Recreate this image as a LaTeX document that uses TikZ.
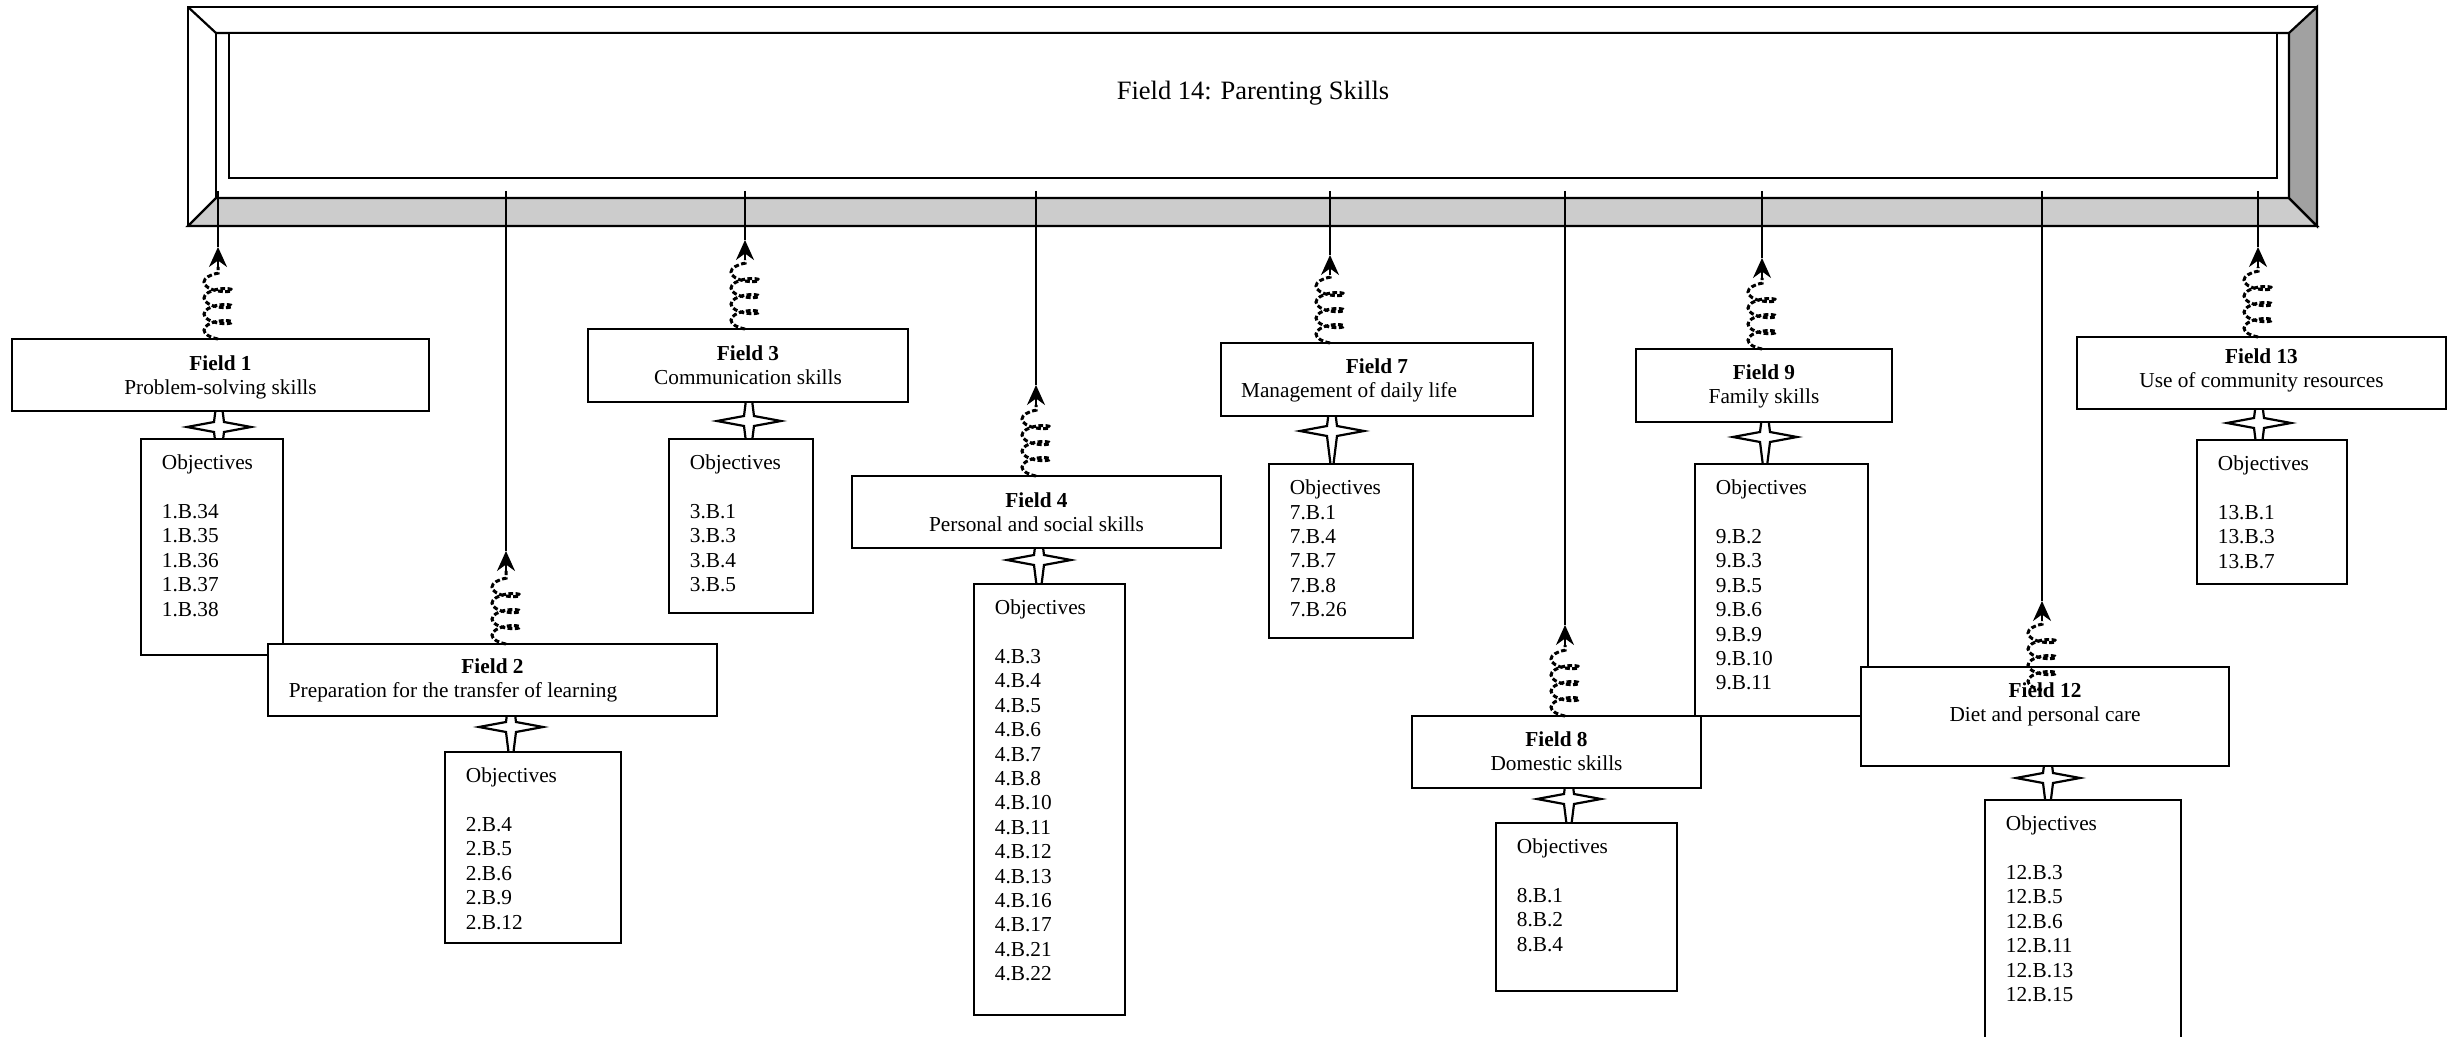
\documentclass[tikz,border=0pt]{standalone}
\usepackage{fontspec}
\setmainfont{Liberation Serif}
\usetikzlibrary{fit,decorations.pathmorphing,arrows.meta}
\newcommand\bodyfnt{\fontsize{10.65pt}{12.2pt}\selectfont}
\newcommand\titlefnt{\fontsize{13.25pt}{15pt}\selectfont}
\begin{document}
\begin{tikzpicture}[x=0.5pt,y=-0.5pt,
  box/.style={draw, line width=1.1pt, fill=white, inner sep=0pt, outer sep=0pt},
  fieldtext/.style={anchor=north, align=center, inner sep=0pt, font=\bodyfnt},
  objtext/.style={anchor=north west, align=left, inner sep=0pt, font=\bodyfnt},
  link/.style={line width=1pt},
  tipline/.style={line width=1pt, -{Stealth[length=10pt,width=9pt]}},
  coilline/.style={line width=1.5pt, dash pattern=on 2.4pt off 1.2pt, decorate,
     decoration={coil, amplitude=7pt, segment length=8pt, aspect=0.35}},
  starline/.style={draw, line width=1.1pt, fill=white},
  fourstar/.pic={\path[starline] (-32,0) -- (-5,-5) -- (0,-45) -- (5,-5) -- (32,0) -- (5,5) -- (0,45) -- (-5,5) -- cycle;}
]
\useasboundingbox (0,0) rectangle (2459,1037);
\clip (0,0) rectangle (2459,1037);

% ---- frame ----
\draw[line width=1.1pt, fill=white] (188,7) rectangle (2317,226);
\draw[line width=1.1pt, fill=black!20] (216,198) -- (2289,198) -- (2317,226) -- (188,226) -- cycle;
\draw[line width=1.1pt, fill=black!37] (2289,33) -- (2317,7) -- (2317,226) -- (2289,198) -- cycle;
\draw[line width=1.1pt] (188,7) -- (216,33) -- (2289,33);
\draw[line width=1.1pt] (216,33) -- (216,198);
\node[box, fit={(229,33) (2277,178)}] (panel) {};
\node[anchor=base, font=\titlefnt, inner sep=0pt] (title) at (1253,100) {Field 14: Parenting Skills};

% ---- stars ----
\foreach \cx/\cy in {219/427, 511/727, 749/421, 1039/560, 1332/431, 1569/799, 1765/437, 2048/778, 2259/423}
  \pic at (\cx,\cy) {fourstar};

% ---- group 1 ----
\node[box, fit={(12,339) (429,411)}] (f1) {};
\node[fieldtext] (f1t) at (220.5,355.4) {\textbf{Field 1}\\Problem-solving skills};
\node[box, fit={(141,439) (283,655)}] (o1) {};
\node[objtext] (o1t) at (161.5,454.5) {Objectives\\[12.2pt]1.B.34\\1.B.35\\1.B.36\\1.B.37\\1.B.38};
% ---- group 2 ----
\node[box, fit={(268,644) (717,716)}] (f2) {};
\node[fieldtext] (f2t) at (492.5,658.4) {\textbf{Field 2}\\Preparation for the transfer of learning\rule{39.5pt}{0pt}};
\node[box, fit={(445,752) (621,943)}] (o2) {};
\node[objtext] (o2t) at (465.5,767.5) {Objectives\\[12.2pt]2.B.4\\2.B.5\\2.B.6\\2.B.9\\2.B.12};
% ---- group 3 ----
\node[box, fit={(588,329) (908,402)}] (f3) {};
\node[fieldtext] (f3t) at (748,345.4) {\textbf{Field 3}\\Communication skills};
\node[box, fit={(669,439) (813,613)}] (o3) {};
\node[objtext] (o3t) at (689.5,454.5) {Objectives\\[12.2pt]3.B.1\\3.B.3\\3.B.4\\3.B.5};
% ---- group 4 ----
\node[box, fit={(852,476) (1221,548)}] (f4) {};
\node[fieldtext] (f4t) at (1036.5,492) {\textbf{Field 4}\\Personal and social skills};
\node[box, fit={(974,584) (1125,1015)}] (o4) {};
\node[objtext] (o4t) at (994.5,599.5) {Objectives\\[12.2pt]4.B.3\\4.B.4\\4.B.5\\4.B.6\\4.B.7\\4.B.8\\4.B.10\\4.B.11\\4.B.12\\4.B.13\\4.B.16\\4.B.17\\4.B.21\\4.B.22};
% ---- group 7 ----
\node[box, fit={(1221,343) (1533,416)}] (f7) {};
\node[fieldtext] (f7t) at (1377,358.4) {\textbf{Field 7}\\Management of daily life\rule{28pt}{0pt}};
\node[box, fit={(1269,464) (1413,638)}] (o7) {};
\node[objtext] (o7t) at (1289.5,479.5) {Objectives\\7.B.1\\7.B.4\\7.B.7\\7.B.8\\7.B.26};
% ---- group 8 ----
\node[box, fit={(1412,716) (1701,788)}] (f8) {};
\node[fieldtext] (f8t) at (1556.5,731.4) {\textbf{Field 8}\\Domestic skills};
\node[box, fit={(1496,823) (1677,991)}] (o8) {};
\node[objtext] (o8t) at (1516.5,838.5) {Objectives\\[12.2pt]8.B.1\\8.B.2\\8.B.4};
% ---- group 9 ----
\node[box, fit={(1636,349) (1892,422)}] (f9) {};
\node[fieldtext] (f9t) at (1764,364.4) {\textbf{Field 9}\\Family skills};
\node[box, fit={(1695,464) (1868,716)}] (o9) {};
\node[objtext] (o9t) at (1715.5,479.5) {Objectives\\[12.2pt]9.B.2\\9.B.3\\9.B.5\\9.B.6\\9.B.9\\9.B.10\\9.B.11};
% ---- group 12 ----
\node[box, fit={(1861,667) (2229,766)}] (f12) {};
\node[fieldtext] (f12t) at (2045,682.4) {\textbf{Field 12}\\Diet and personal care};
\node[box, fit={(1985,800) (2181,1050)}] (o12) {};
\node[objtext] (o12t) at (2005.5,815.5) {Objectives\\[12.2pt]12.B.3\\12.B.5\\12.B.6\\12.B.11\\12.B.13\\12.B.15};
% ---- group 13 ----
\node[box, fit={(2077,337) (2446,409)}] (f13) {};
\node[fieldtext] (f13t) at (2261.5,348.4) {\textbf{Field 13}\\Use of community resources};
\node[box, fit={(2197,440) (2347,584)}] (o13) {};
\node[objtext] (o13t) at (2217.5,455.5) {Objectives\\[12.2pt]13.B.1\\13.B.3\\13.B.7};

% ---- connectors ----
\foreach \n/\x/\tip in {1/218/247, 2/506/551, 3/745/240, 4/1036/385, 7/1330/255, 8/1565/625, 9/1762/258, 12/2042/601, 13/2258/247} {
  \coordinate (t\n) at (\x,191);
  \coordinate (a\n) at (\x,\tip);
  \coordinate (b\n) at (\x,\tip+20);
  \draw[link] (t\n) -- (a\n);
  \draw[tipline] (b\n) -- (a\n);
}
\foreach \n in {1,2,3,4,7,8,9,13}
  \draw[coilline] (f\n.north -| b\n) -- (b\n);
\coordinate (c12) at (2042,690);
\draw[coilline] (c12) -- (b12);
\end{tikzpicture}
\end{document}
